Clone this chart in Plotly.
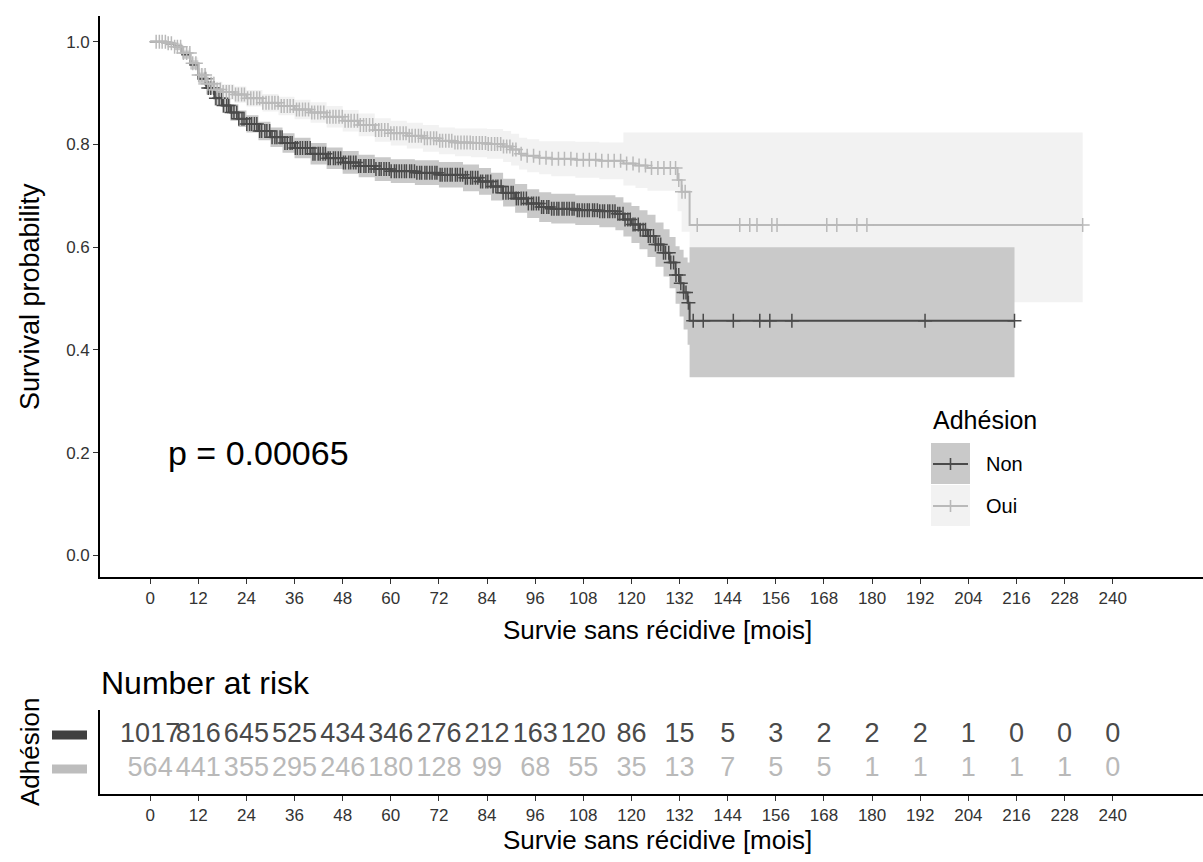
import numpy as np
import plotly.graph_objects as go

W, H = 1203, 862
FONT = "Liberation Sans, Arial, Helvetica, sans-serif"

# ---------------- data ----------------
ticks = list(range(0, 241, 12))
groups = ["Non", "Oui"]
p_text = "p = 0.00065"

non_time = [0, 4, 6, 8, 10, 12, 14, 16, 18, 20, 22, 24, 27, 30, 33, 36, 40, 44, 48, 52, 56, 60, 66, 72,
            78, 82, 85, 88, 91, 94, 97, 100, 106, 112, 116, 118, 120, 122, 124, 126, 128, 129.5, 131,
            132, 133, 134, 134.5]
non_surv = [1.0, 0.997, 0.99, 0.975, 0.955, 0.928, 0.91, 0.89, 0.876, 0.862, 0.85, 0.84, 0.826, 0.814,
            0.803, 0.793, 0.782, 0.773, 0.765, 0.758, 0.752, 0.748, 0.745, 0.741, 0.735, 0.728, 0.718,
            0.706, 0.695, 0.685, 0.678, 0.675, 0.672, 0.670, 0.665, 0.654, 0.644, 0.634, 0.622, 0.605,
            0.589, 0.570, 0.546, 0.530, 0.512, 0.492, 0.457]
non_lower = [1.0, 0.993, 0.984, 0.967, 0.946, 0.916, 0.897, 0.876, 0.861, 0.846, 0.834, 0.823, 0.808,
             0.795, 0.784, 0.773, 0.761, 0.752, 0.743, 0.736, 0.729, 0.725, 0.721, 0.716, 0.709, 0.702,
             0.691, 0.679, 0.667, 0.657, 0.649, 0.646, 0.643, 0.639, 0.633, 0.621, 0.608, 0.596, 0.581,
             0.562, 0.543, 0.52, 0.49, 0.465, 0.44, 0.41, 0.347]
non_upper = [1.0, 1.0, 0.996, 0.983, 0.964, 0.94, 0.923, 0.904, 0.891, 0.878, 0.866, 0.857, 0.844,
             0.833, 0.822, 0.813, 0.803, 0.794, 0.787, 0.78, 0.775, 0.771, 0.769, 0.766, 0.761, 0.754,
             0.745, 0.733, 0.723, 0.713, 0.707, 0.704, 0.701, 0.701, 0.697, 0.687, 0.68, 0.672, 0.663,
             0.648, 0.635, 0.62, 0.602, 0.595, 0.58, 0.57, 0.60]
non_end = 215.5

oui_time = [0, 4, 6, 8, 10, 12, 14, 16, 18, 21, 24, 28, 32, 36, 40, 44, 48, 52, 56, 60, 64, 68, 72, 76,
            80, 84, 88, 90, 92, 94, 97, 100, 106, 112, 118, 121, 124, 131.5, 132.5, 134.5]
oui_surv = [1.0, 0.997, 0.99, 0.978, 0.958, 0.935, 0.918, 0.907, 0.902, 0.897, 0.89, 0.881, 0.875, 0.868,
            0.862, 0.854, 0.846, 0.838, 0.828, 0.822, 0.817, 0.812, 0.807, 0.804, 0.803, 0.801, 0.796,
            0.79, 0.782, 0.778, 0.774, 0.772, 0.77, 0.768, 0.763, 0.759, 0.754, 0.731, 0.708, 0.643]
oui_lower = [1.0, 0.992, 0.983, 0.969, 0.947, 0.922, 0.904, 0.892, 0.887, 0.881, 0.874, 0.864, 0.857,
             0.849, 0.842, 0.833, 0.825, 0.816, 0.805, 0.798, 0.792, 0.786, 0.781, 0.777, 0.775, 0.772,
             0.766, 0.759, 0.751, 0.746, 0.742, 0.738, 0.735, 0.732, 0.72, 0.715, 0.71, 0.67, 0.63, 0.493]
oui_upper = [1.0, 1.0, 0.997, 0.987, 0.969, 0.948, 0.932, 0.922, 0.917, 0.913, 0.906, 0.898, 0.893,
             0.887, 0.882, 0.875, 0.867, 0.86, 0.851, 0.846, 0.842, 0.838, 0.833, 0.831, 0.831, 0.83,
             0.826, 0.821, 0.813, 0.81, 0.806, 0.806, 0.805, 0.804, 0.823, 0.823, 0.823, 0.823, 0.823,
             0.823]
oui_end = 232.5

non_censor = [13.8, 14.5, 15.1, 15.9, 16.4, 17.2, 17.8, 18.3, 19.1, 19.6, 20.3, 20.9, 21.6, 22.1, 22.9,
              23.4, 24.1, 24.8, 25.3, 26.0, 26.6, 27.3, 27.8, 28.6, 29.1, 29.8, 30.4, 31.1, 31.6, 32.4,
              32.9, 33.6, 34.2, 34.9, 35.4, 36.2, 36.7, 37.4, 38.0, 38.7, 39.2, 39.9, 40.6, 41.1, 41.9,
              42.4, 43.1, 43.7, 44.4, 44.9, 45.7, 46.2, 46.9, 47.5, 48.2, 48.7, 49.5, 50.0, 50.7, 51.3,
              52.0, 52.5, 53.3, 53.8, 54.5, 55.1, 55.8, 56.3, 57.1, 57.6, 58.3, 58.9, 59.6, 60.1, 60.9,
              61.4, 62.1, 62.7, 63.4, 63.9, 64.7, 65.2, 65.9, 66.5, 67.2, 67.7, 68.5, 69.0, 69.7, 70.3,
              71.0, 71.5, 72.3, 72.8, 73.5, 74.1, 74.8, 75.3, 76.1, 76.6, 77.3, 77.9, 78.6, 79.1, 79.9,
              80.4, 81.1, 81.7, 82.4, 82.9, 83.7, 84.2, 84.9, 85.5, 86.2, 86.7, 87.5, 88.0, 88.7, 89.3,
              90.0, 90.5, 91.3, 91.8, 92.5, 93.1, 93.8, 94.3, 95.1, 95.6, 96.3, 96.9, 97.6, 98.1, 98.9,
              99.4, 100.1, 100.7, 101.4, 101.9, 102.7, 103.2, 103.9, 104.5, 105.2, 105.7, 106.5, 107.0,
              107.7, 108.3, 109.0, 109.5, 110.3, 110.8, 111.5, 112.1, 112.8, 113.3, 114.1, 114.6, 115.3,
              115.9, 116.6, 117.1, 117.9, 118.4, 119.1, 119.7, 120.4, 120.9, 121.7, 122.2, 122.9, 123.5,
              124.2, 124.7, 125.5, 126.0, 126.7, 127.3, 128.0, 128.5, 129.3, 129.8, 130.5, 131.1, 131.8,
              132.3, 133.0, 133.6, 134.2, 135.4, 137.9, 145.4, 152, 154.5, 160, 193.2, 215.5]
oui_censor = [1.5, 2.3, 3.0, 3.8, 4.5, 5.3, 6.1, 6.8, 7.6, 8.3, 9.1, 9.9, 10.6, 11.4, 12.1, 12.9, 13.7,
              14.4, 15.2, 15.9, 16.7, 17.5, 18.2, 19.0, 19.7, 20.5, 21.3, 22.0, 22.8, 23.5, 24.3, 25.1,
              25.8, 26.6, 27.3, 28.1, 28.9, 29.6, 30.4, 31.1, 31.9, 32.7, 33.4, 34.2, 34.9, 35.7, 36.5,
              37.2, 38.0, 38.7, 39.5, 40.3, 41.0, 41.8, 42.5, 43.3, 44.1, 44.8, 45.6, 46.3, 47.1, 47.9,
              48.6, 49.4, 50.1, 50.9, 51.7, 52.4, 53.2, 53.9, 54.7, 55.5, 56.2, 57.0, 57.7, 58.5, 59.3,
              60.0, 60.8, 61.5, 62.3, 63.1, 63.8, 64.6, 65.3, 66.1, 66.9, 67.6, 68.4, 69.1, 69.9, 70.7,
              71.4, 72.2, 72.9, 73.7, 74.5, 75.2, 76.0, 76.7, 77.5, 78.3, 79.0, 79.8, 80.5, 81.3, 82.1,
              82.8, 83.6, 84.3, 85.1, 85.9, 86.6, 87.4, 88.1, 88.9, 89.7, 90.4, 91.2, 92.5, 94.0, 95.6,
              97.1, 98.7, 100.2, 101.8, 103.3, 104.9, 106.4, 108.0, 109.5, 111.1, 112.6, 114.2, 115.7,
              117.3, 118.8, 120.4, 121.9, 123.5, 125.0, 126.6, 128.1, 129.7, 131.0, 131.8, 132.6, 133.4,
              136.4, 147, 149.5, 151.3, 155, 156.3, 168.7, 171.2, 176.2, 178.7, 232.5]

risk_non = [1017, 816, 645, 525, 434, 346, 276, 212, 163, 120, 86, 15, 5, 3, 2, 2, 2, 1, 0, 0, 0]
risk_oui = [564, 441, 355, 295, 246, 180, 128, 99, 68, 55, 35, 13, 7, 5, 5, 1, 1, 1, 1, 1, 0]

# ---------------- styles ----------------
C_NON = "#4a4a4a"
C_OUI = "#b9b9b9"
F_NON = "#c9c9c9"
F_OUI = "#f2f2f2"


def px(x):
    return x / W


def py(y):
    return 1 - y / H


def ext(t, v, end):
    return list(t) + [end], list(v) + [v[-1]]


def step_at(times, vals, pts):
    idx = np.searchsorted(np.asarray(times), np.asarray(pts), side="right") - 1
    return list(np.asarray(vals)[idx])


fig = go.Figure()

# confidence bands (Oui below, Non above)
for t, lo, up, end, fc in [(oui_time, oui_lower, oui_upper, oui_end, F_OUI),
                           (non_time, non_lower, non_upper, non_end, F_NON)]:
    xl, yl = ext(t, lo, end)
    xu, yu = ext(t, up, end)
    fig.add_trace(go.Scatter(x=xl, y=yl, mode="lines", line=dict(width=0, shape="hv", color=fc),
                             hoverinfo="skip", showlegend=False, xaxis="x", yaxis="y"))
    fig.add_trace(go.Scatter(x=xu, y=yu, mode="lines", line=dict(width=0, shape="hv", color=fc),
                             fill="tonexty", fillcolor=fc, hoverinfo="skip", showlegend=False,
                             xaxis="x", yaxis="y"))

# survival curves + censor marks
for t, s, end, cens, col in [(non_time, non_surv, non_end, non_censor, C_NON),
                             (oui_time, oui_surv, oui_end, oui_censor, C_OUI)]:
    xs, ys = ext(t, s, end)
    fig.add_trace(go.Scatter(x=xs, y=ys, mode="lines", line=dict(width=2, shape="hv", color=col),
                             showlegend=False, xaxis="x", yaxis="y"))
    fig.add_trace(go.Scatter(x=cens, y=step_at(t, s, cens), mode="markers",
                             marker=dict(symbol="cross-thin", size=10, line=dict(width=1.5, color=col),
                                         color=col),
                             showlegend=False, xaxis="x", yaxis="y"))

# risk table
for vals, ypos, col in [(risk_non, 1, C_NON), (risk_oui, 0, C_OUI)]:
    fig.add_trace(go.Scatter(x=ticks, y=[ypos] * len(ticks), mode="text",
                             text=[str(v) for v in vals],
                             textfont=dict(family=FONT, size=27, color=col),
                             showlegend=False, xaxis="x2", yaxis="y2", hoverinfo="skip"))

xdom = [px(100), 1.0]
main_dom = [py(577), py(16)]
tab_dom = [py(794), py(710)]

axis_common = dict(showgrid=False, zeroline=False, showline=True, linecolor="black", linewidth=1.6,
                   ticks="outside", ticklen=5, tickwidth=1.3, tickcolor="#333",
                   tickfont=dict(family=FONT, size=17, color="#333"))

fig.update_layout(
    width=W, height=H, margin=dict(l=0, r=0, t=0, b=0),
    paper_bgcolor="white", plot_bgcolor="white",
    font=dict(family=FONT, color="black"),
    xaxis=dict(domain=xdom, range=[-12.5, 262.5], tickvals=ticks, anchor="y", **axis_common),
    yaxis=dict(domain=main_dom, range=[-0.042, 1.05], tickvals=[0, 0.2, 0.4, 0.6, 0.8, 1.0],
               ticktext=["0.0", "0.2", "0.4", "0.6", "0.8", "1.0"], anchor="x", **axis_common),
    xaxis2=dict(domain=xdom, range=[-12.5, 262.5], tickvals=ticks, anchor="y2", **axis_common),
    yaxis2=dict(domain=tab_dom, range=[-0.735, 1.735], tickvals=[0, 1], showticklabels=False,
                showgrid=False, zeroline=False, showline=True, linecolor="black", linewidth=1.6,
                ticks="", anchor="x2"),
    showlegend=False,
)

annotations = [
    dict(text="Survival probability", x=px(30), y=py(297), xref="paper", yref="paper", textangle=-90,
         showarrow=False, font=dict(family=FONT, size=27, color="black"), xanchor="center",
         yanchor="middle"),
    dict(text="Survie sans récidive [mois]", x=px(657), y=py(630), xref="paper", yref="paper",
         showarrow=False, font=dict(family=FONT, size=26, color="black"), xanchor="center",
         yanchor="middle"),
    dict(text=p_text, x=4, y=0.2, xref="x", yref="y", showarrow=False,
         font=dict(family=FONT, size=34, color="black"), xanchor="left", yanchor="middle"),
    dict(text="Adhésion", x=px(931), y=py(420), xref="paper", yref="paper", showarrow=False,
         font=dict(family=FONT, size=25, color="black"), xanchor="left", yanchor="middle"),
    dict(text=groups[0], x=px(984), y=py(464), xref="paper", yref="paper", showarrow=False,
         font=dict(family=FONT, size=20, color="black"), xanchor="left", yanchor="middle"),
    dict(text=groups[1], x=px(984), y=py(506), xref="paper", yref="paper", showarrow=False,
         font=dict(family=FONT, size=20, color="black"), xanchor="left", yanchor="middle"),
    dict(text="Number at risk", x=px(99), y=py(683), xref="paper", yref="paper", showarrow=False,
         font=dict(family=FONT, size=32, color="black"), xanchor="left", yanchor="middle"),
    dict(text="Adhésion", x=px(30), y=py(752), xref="paper", yref="paper", textangle=-90,
         showarrow=False, font=dict(family=FONT, size=26, color="black"), xanchor="center",
         yanchor="middle"),
    dict(text="Survie sans récidive [mois]", x=px(657), y=py(840), xref="paper", yref="paper",
         showarrow=False, font=dict(family=FONT, size=26, color="black"), xanchor="center",
         yanchor="middle"),
]
fig.update_layout(annotations=annotations)

shapes = []
# legend keys
for (y0, y1, ym, fc, lc) in [(443, 484, 464, F_NON, C_NON), (485, 526, 506, F_OUI, C_OUI)]:
    shapes.append(dict(type="rect", xref="paper", yref="paper", x0=px(931), x1=px(970),
                       y0=py(y1), y1=py(y0), fillcolor=fc, line=dict(width=0), layer="below"))
    shapes.append(dict(type="line", xref="paper", yref="paper", x0=px(933), x1=px(968),
                       y0=py(ym), y1=py(ym), line=dict(color=lc, width=2)))
    shapes.append(dict(type="line", xref="paper", yref="paper", x0=px(950.5), x1=px(950.5),
                       y0=py(ym + 6), y1=py(ym - 6), line=dict(color=lc, width=1.6)))
# risk-table group colour keys
for ypos, col in [(1, "#404040"), (0, "#bdbdbd")]:
    shapes.append(dict(type="rect", xref="x2 domain", yref="y2", x0=(52 - 100) / 1103,
                       x1=(87 - 100) / 1103, y0=ypos - 0.13, y1=ypos + 0.13, fillcolor=col,
                       line=dict(width=0)))
fig.update_layout(shapes=shapes)

fig.write_html("out.html", config={"displayModeBar": False},
               post_script="document.body.style.margin='0px';")
